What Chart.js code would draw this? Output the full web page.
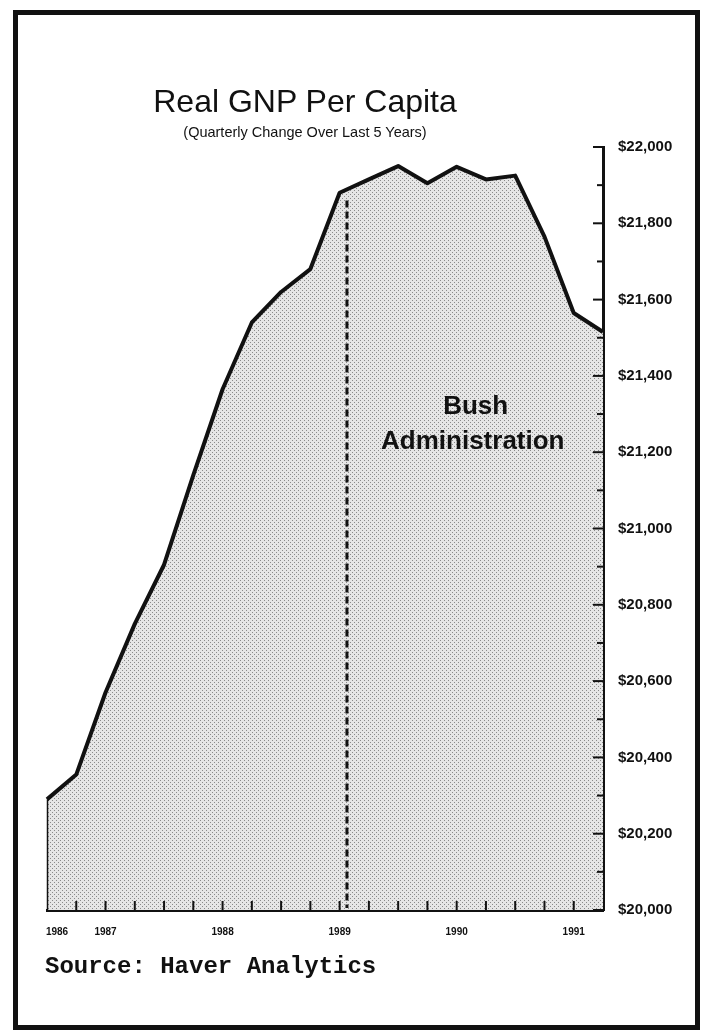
<!DOCTYPE html>
<html lang="en">
<head>
<meta charset="UTF-8">
<title>Real GNP Per Capita</title>
<script src="https://cdn.jsdelivr.net/npm/chart.js"></script>
<style>
  body { margin: 0; background: #fff; }
  #wrap { position: relative; width: 709px; height: 1032px; overflow: hidden; }
  #chart { position: absolute; left: 0; top: 0; }
  #frame { position: absolute; left: 13px; top: 10px; width: 687px; height: 1020px; box-sizing: border-box; border: 5px solid #111; }
  .txt { position: absolute; font-family: "Liberation Sans", Arial, sans-serif; color: #111; white-space: nowrap; line-height: 1; }
  #title { left: 0; width: 610px; text-align: center; top: 85px; font-size: 32px; }
  #sub { left: 0; width: 610px; text-align: center; top: 125px; font-size: 14.5px; }
  #source { left: 45px; top: 955px; font-family: "Courier New", "Liberation Mono", monospace; font-weight: bold; font-size: 24px; }
</style>
</head>
<body>
<div id="wrap">
  <canvas id="chart" width="709" height="1032"></canvas>
  <div id="frame"></div>
  <div class="txt" id="title">Real GNP Per Capita</div>
  <div class="txt" id="sub">(Quarterly Change Over Last 5 Years)</div>
  <div class="txt" id="source">Source: Haver Analytics</div>
</div>

<script>
// quarters shown, 1986 Q3 .. 1991 Q2
const quarters = [
  '1986 Q3', '1986 Q4',
  '1987 Q1', '1987 Q2', '1987 Q3', '1987 Q4',
  '1988 Q1', '1988 Q2', '1988 Q3', '1988 Q4',
  '1989 Q1', '1989 Q2', '1989 Q3', '1989 Q4',
  '1990 Q1', '1990 Q2', '1990 Q3', '1990 Q4',
  '1991 Q1', '1991 Q2'
];
// real GNP per capita, dollars
const gnpPerCapita = [
  20290, 20355,
  20570, 20750, 20905, 21140,
  21365, 21540, 21620, 21680,
  21880, 21915, 21950, 21905,
  21948, 21915, 21925, 21765,
  21565, 21515
];
const yearLabels = ['1986', '1987', '1988', '1989', '1990', '1991'];
const yearTickIndex = [0, 2, 6, 10, 14, 18];

// Bush administration marker (quarter index) and where the dashes stop
const bushStart = 10.25;
const bushTop = 21860;

const ctx = document.getElementById('chart').getContext('2d');

// halftone dot screen for the area fill
function dotPattern() {
  const c = document.createElement('canvas');
  c.width = 4; c.height = 4;
  const g = c.getContext('2d');
  g.fillStyle = '#e6e6e6';
  g.fillRect(0, 0, 4, 4);
  g.fillStyle = '#8a8a8a';
  g.fillRect(0, 0, 1, 1);
  g.fillRect(2, 2, 1, 1);
  return ctx.createPattern(c, 'repeat');
}

// inward tick marks, dashed marker, label
const marks = {
  id: 'marks',
  afterDraw(chart) {
    const { ctx, chartArea: a, scales: { x, y } } = chart;
    ctx.save();
    ctx.strokeStyle = '#111';
    ctx.lineWidth = 2;

    x.ticks.forEach((t, i) => {
      if (i === 0 || i === x.ticks.length - 1) return;
      const px = x.getPixelForTick(i);
      ctx.beginPath();
      ctx.moveTo(px, a.bottom);
      ctx.lineTo(px, a.bottom - 9);
      ctx.stroke();
    });

    y.ticks.forEach((t, i) => {
      const py = y.getPixelForTick(i);
      const len = t.value % 200 === 0 ? 10 : 6;
      ctx.beginPath();
      ctx.moveTo(a.right, py);
      ctx.lineTo(a.right - len, py);
      ctx.stroke();
    });

    // left edge of the filled area
    ctx.lineWidth = 1.5;
    ctx.beginPath();
    ctx.moveTo(a.left + 0.5, y.getPixelForValue(gnpPerCapita[0]));
    ctx.lineTo(a.left + 0.5, a.bottom);
    ctx.stroke();

    // start of Bush administration
    const bx = x.getPixelForValue(bushStart);
    ctx.lineWidth = 3;
    ctx.setLineDash([7, 4]);
    ctx.beginPath();
    ctx.moveTo(bx, y.getPixelForValue(bushTop));
    ctx.lineTo(bx, a.bottom - 2);
    ctx.stroke();
    ctx.setLineDash([]);

    ctx.fillStyle = '#111';
    ctx.font = 'bold 26px "Liberation Sans", Arial, sans-serif';
    ctx.textAlign = 'center';
    ctx.textBaseline = 'middle';
    ctx.fillText('Bush', x.getPixelForValue(14.65), y.getPixelForValue(21320));
    ctx.fillText('Administration', x.getPixelForValue(14.55), y.getPixelForValue(21228));
    ctx.restore();
  }
};

new Chart(ctx, {
  type: 'line',
  data: {
    labels: quarters,
    datasets: [{
      data: gnpPerCapita,
      borderColor: '#111',
      borderWidth: 4,
      borderJoinStyle: 'round',
      pointRadius: 0,
      tension: 0,
      fill: 'start',
      backgroundColor: dotPattern()
    }]
  },
  options: {
    responsive: false,
    animation: false,
    layout: { padding: { left: 47, top: 147, right: 0, bottom: 80 } },
    plugins: { legend: { display: false }, tooltip: { enabled: false } },
    scales: {
      x: {
        offset: false,
        z: 1,
        grid: { display: false },
        border: { color: '#111', width: 3 },
        ticks: {
          autoSkip: false,
          maxRotation: 0,
          padding: 8,
          color: '#111',
          font: { family: '"Liberation Sans", Arial, sans-serif', size: 10, weight: 'bold' },
          callback: (v, i) => {
            const k = yearTickIndex.indexOf(i);
            if (k < 0) return '';
            return k === 0 ? '\u2002\u2002\u2002\u2002' + yearLabels[k] : yearLabels[k];
          }
        },
        afterFit: s => { s.height = 42; }
      },
      y: {
        position: 'right',
        min: 20000,
        max: 22000,
        z: 1,
        grid: { display: false },
        border: { color: '#111', width: 3 },
        ticks: {
          stepSize: 100,
          autoSkip: false,
          padding: 7,
          color: '#111',
          font: { family: '"Liberation Sans", Arial, sans-serif', size: 15, weight: 'bold' },
          callback: v => v % 200 === 0 ? '$' + v.toLocaleString('en-US') : ''
        },
        afterFit: s => { s.width = 106; }
      }
    }
  },
  plugins: [marks]
});
</script>
</body>
</html>
